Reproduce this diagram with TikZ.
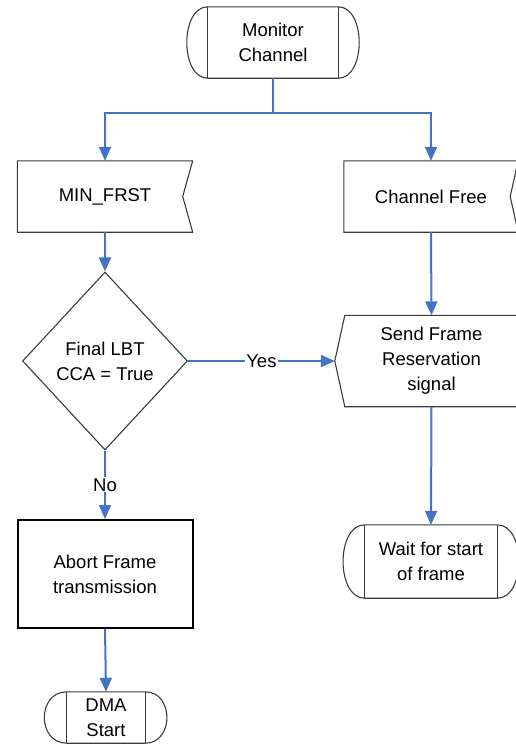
\documentclass[tikz,border=0pt]{standalone}
\usepackage{fontspec}
\setmainfont{Liberation Sans}
\usetikzlibrary{arrows.meta,shapes.geometric}
\definecolor{connblue}{HTML}{4472C4}
\definecolor{outlgray}{HTML}{3A3A3A}
\tikzset{
  txt/.style={draw=none, align=center, inner sep=0pt, font=\fontsize{18.5}{25}\selectfont},
  outl/.style={draw=outlgray, line width=1.1pt, line join=miter},
  conn/.style={draw=connblue, line width=2pt},
  arr/.style={conn, -{Triangle[length=14pt,width=12pt]}},
  lbl/.style={fill=white, inner sep=1pt, font=\fontsize{18.5}{25}\selectfont}
}
\begin{document}
\begin{tikzpicture}[x=1pt,y=-1pt]
\useasboundingbox (0,0) rectangle (515,745);

% Monitor Channel (terminator)
\node[txt, minimum width=130pt, minimum height=71pt] (mon) at (273,42.5) {Monitor\\Channel};
\draw[outl] (mon.north west) -- (mon.north east) .. controls +(28,0) and +(28,0) .. (mon.south east)
  -- (mon.south west) .. controls +(-28,0) and +(-28,0) .. cycle;
\draw[outl] (mon.north west) -- (mon.south west);
\draw[outl] (mon.north east) -- (mon.south east);

% MIN_FRST (input, notched right)
\node[txt, minimum width=175pt, minimum height=71pt] (mf) at (105,196.5) {MIN\_FRST};
\draw[outl] (mf.north west) -- (mf.north east) -- ([xshift=-10pt]mf.east) -- (mf.south east) -- (mf.south west) -- cycle;

% Channel Free (input, notched right)
\node[txt, minimum width=174pt, minimum height=71pt] (cf) at (431,196.5) {Channel Free};
\draw[outl] (cf.north west) -- (cf.north east) -- ([xshift=-8pt]cf.east) -- (cf.south east) -- (cf.south west) -- cycle;

% Decision
\node[txt, shape=diamond, outl, minimum width=165pt, minimum height=178pt] (dec) at (105,361) {Final LBT\\CCA = True};

% Send Frame Reservation signal (output, pointed left)
\node[txt, minimum width=173pt, minimum height=91pt] (sf) at (431.5,361) {Send Frame\\Reservation\\signal};
\coordinate (sfp) at ([xshift=-10pt]sf.west);
\draw[outl] (sf.north west) -- (sf.north east) -- (sf.south east) -- (sf.south west) -- (sfp) -- cycle;

% Wait for start of frame (terminator)
\node[txt, minimum width=132pt, minimum height=73pt] (wt) at (431,561.5) {Wait for start\\of frame};
\draw[outl] (wt.north west) -- (wt.north east) .. controls +(29,0) and +(29,0) .. (wt.south east)
  -- (wt.south west) .. controls +(-29,0) and +(-29,0) .. cycle;
\draw[outl] (wt.north west) -- (wt.south west);
\draw[outl] (wt.north east) -- (wt.south east);

% Abort Frame transmission (process)
\node[txt, draw=black, line width=2pt, minimum width=175pt, minimum height=108pt] (ab) at (105,574) {Abort Frame\\transmission};

% DMA Start (terminator)
\node[txt, minimum width=78pt, minimum height=51pt] (dma) at (106,717.5) {DMA\\Start};
\draw[outl] (dma.north west) -- (dma.north east) .. controls +(29,0) and +(29,0) .. (dma.south east)
  -- (dma.south west) .. controls +(-30,0) and +(-30,0) .. cycle;
\draw[outl] (dma.north west) -- (dma.south west);
\draw[outl] (dma.north east) -- (dma.south east);

% Connectors
\coordinate (split) at (273,113);
\draw[conn] (mon.south) -- (split);
\draw[arr] (split) -| (mf.north);
\draw[arr] (split) -| (cf.north);
\draw[arr] (mf.south) -- (dec.north);
\draw[arr] (dec.east) -- node[lbl] {Yes} (sfp);
\draw[arr] (dec.south) -- node[lbl] {No} (ab.north);
\draw[arr] (cf.south) -- (sf.north);
\draw[arr] (sf.south) -- (wt.north);
\draw[arr] (ab.south) -- (dma.north);
\end{tikzpicture}
\end{document}
